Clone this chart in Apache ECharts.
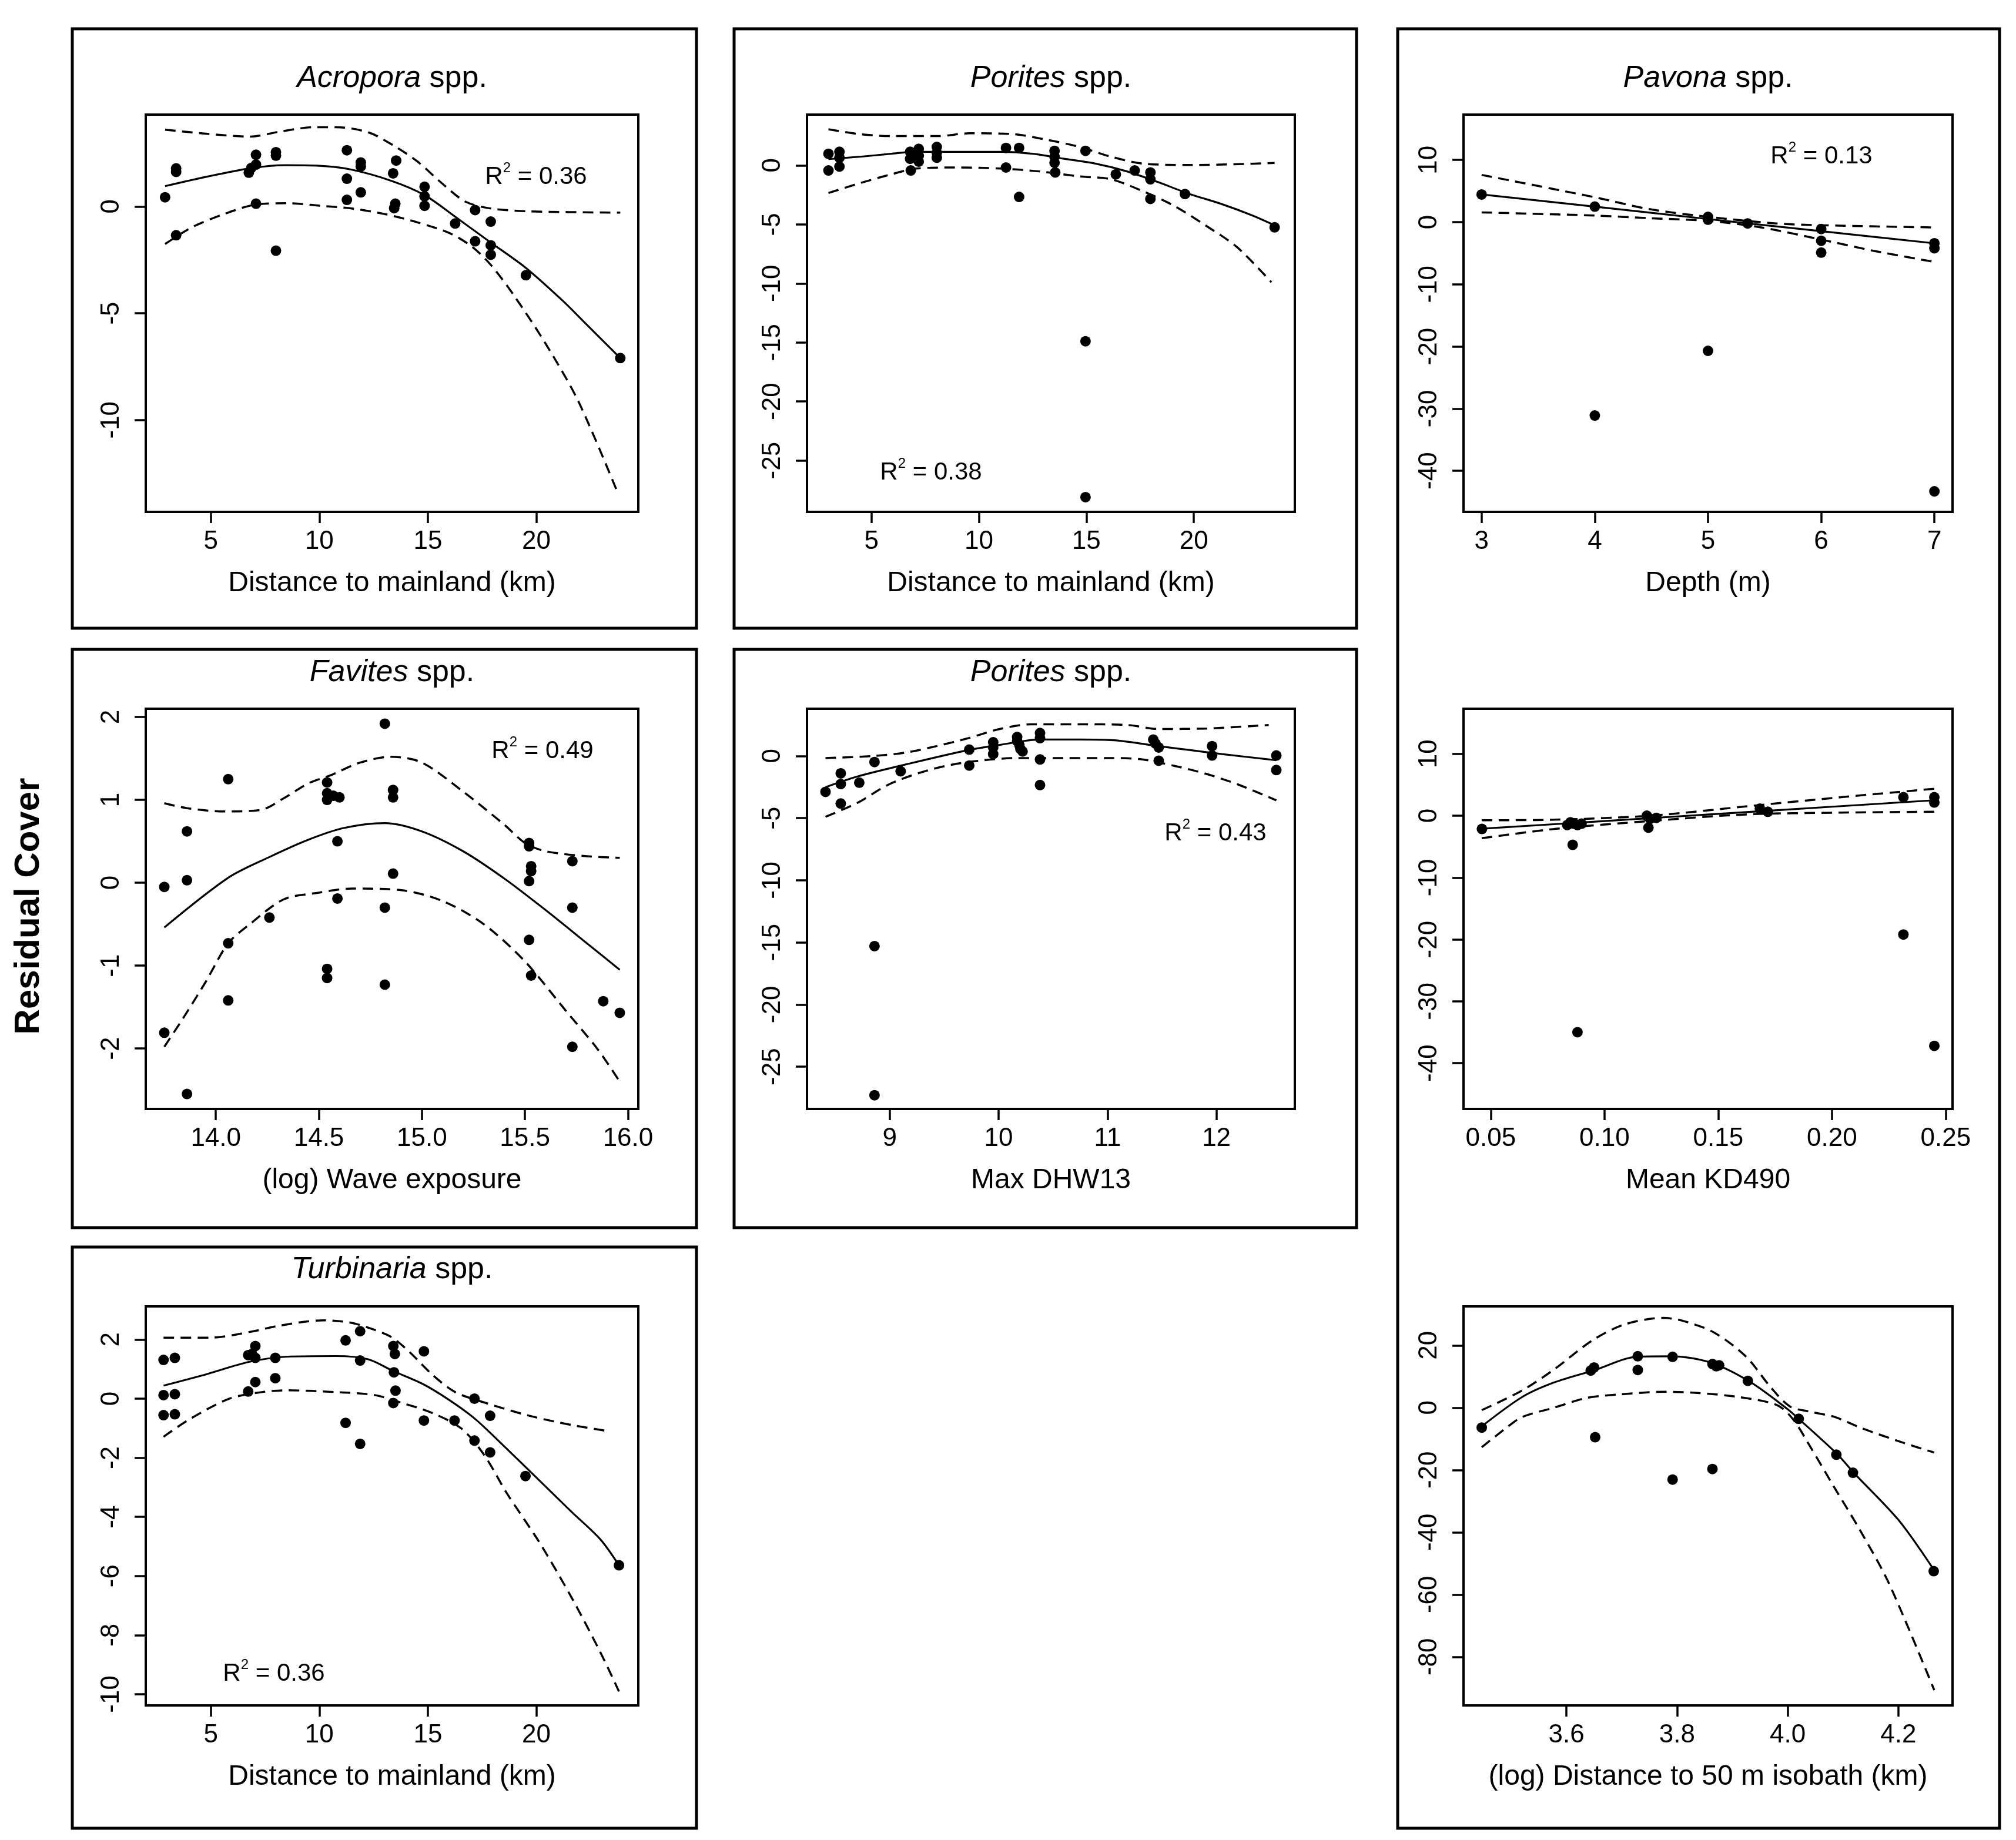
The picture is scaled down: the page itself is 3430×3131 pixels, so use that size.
<!DOCTYPE html>
<html><head><meta charset="utf-8">
<script src="https://cdn.jsdelivr.net/npm/echarts@6/dist/echarts.min.js"></script>
<style>html,body{margin:0;padding:0;background:#fff}#c{width:3430px;height:3131px}</style>
</head><body><div id="c"></div>
<script>
// ---------- Panel 1: Acropora spp. vs distance to mainland ----------
const acroX = [2.89,3.4,3.4,3.4,6.75,6.86,7.08,7.08,7.08,8.0,8.0,8.0,11.27,11.27,11.27,11.91,11.91,11.91,13.54,13.4,13.5,13.45,14.85,14.85,14.85,16.26,17.18,17.18,17.9,17.9,17.9,19.52,23.87];
const acroY = [0.43,1.78,1.62,-1.35,1.58,1.8,2.42,1.96,0.13,2.54,2.38,-2.07,2.63,1.3,0.31,2.06,1.87,0.66,2.15,1.55,0.13,-0.08,0.92,0.47,0.03,-0.8,-0.17,-1.63,-0.71,-1.82,-2.26,-3.22,-7.1];
const acroFitX = [2.89,4.85,6.78,8.42,9.9,11.4,13.32,14.85,16.26,17.9,19.52,21.2,22.24,23.87];
const acroFitY = [0.95,1.4,1.78,1.93,1.91,1.74,1.2,0.53,-0.48,-1.69,-2.88,-4.4,-5.45,-7.1];
const acroUpX = [2.89,4.85,6.78,8.27,9.75,10.8,12.28,13.47,14.5,15.7,16.74,17.93,19.7,23.87];
const acroUpY = [3.59,3.4,3.27,3.52,3.71,3.71,3.46,2.82,2.12,1.04,0.22,-0.1,-0.23,-0.29];
const acroLoX = [2.89,4.1,5.6,7.08,8.57,10.05,11.54,13.02,14.5,16.0,17.03,17.93,18.97,20.45,21.94,23.72];
const acroLoY = [-1.76,-0.99,-0.36,0.09,0.15,0.03,-0.1,-0.36,-0.74,-1.25,-1.88,-2.77,-4.17,-6.46,-9.13,-13.33];
const acroXTicks = [5,10,15,20];
const acroYTicks = [0,-5,-10];

// ---------- Panel 2: Porites spp. vs distance to mainland ----------
const porX = [3.0,3.0,3.51,3.51,3.51,6.8,6.8,6.83,7.2,7.2,7.2,8.04,8.04,8.04,11.26,11.26,11.87,11.87,13.52,13.52,13.52,13.55,14.96,14.96,14.96,16.37,17.25,17.98,17.98,17.98,19.59,23.76];
const porY = [0.98,-0.43,1.15,0.65,-0.1,1.15,0.56,-0.43,1.4,0.81,0.32,1.56,1.06,0.65,1.48,-0.18,1.48,-2.67,1.23,0.73,0.23,-0.6,1.23,-14.9,-28.1,-0.76,-0.43,-0.6,-1.18,-2.84,-2.43,-5.25];
const porFitX = [3.0,4.46,5.92,6.94,8.85,11.04,12.5,13.96,15.42,16.89,18.35,19.81,21.27,22.73,23.76];
const porFitY = [0.53,0.73,0.98,1.15,1.15,1.15,0.98,0.56,0.15,-0.51,-1.43,-2.43,-3.26,-4.25,-5.08];
const porUpX = [3.0,4.46,5.92,8.11,9.58,11.62,13.23,14.69,16.15,17.62,19.81,23.76];
const porUpY = [3.06,2.64,2.48,2.48,2.72,2.64,2.14,1.56,0.73,0.15,0.03,0.2];
const porLoX = [3.0,4.46,5.92,7.09,8.85,11.04,12.79,14.69,16.15,17.62,19.08,20.54,22.0,23.61];
const porLoY = [-2.34,-1.51,-0.76,-0.27,-0.18,-0.27,-0.51,-0.93,-1.18,-2.18,-3.42,-5.08,-6.91,-9.9];
const porXTicks = [5,10,15,20];
const porYTicks = [0,-5,-10,-15,-20,-25];

// ---------- Panel 3: Pavona spp. vs depth ----------
const pavDX = [3,4,4,5,5,5,5.35,6,6,6,7,7,7];
const pavDY = [4.45,2.5,-31.1,0.85,0.4,-20.7,-0.2,-1.1,-3.0,-4.9,-3.4,-4.2,-43.3];
const pavDFitX = [3,4,5,6,7];
const pavDFitY = [4.45,2.5,0.5,-1.45,-3.4];
const pavDUpX = [3,4,4.48,5,5.6,6,7];
const pavDUpY = [7.6,4.0,2.1,0.85,-0.2,-0.5,-0.85];
const pavDLoX = [3,4,4.48,5,5.47,6,6.46,7];
const pavDLoY = [1.57,1.06,0.64,0.2,-0.85,-2.8,-4.6,-6.4];
const pavDXTicks = [3,4,5,6,7];
const pavDYTicks = [10,0,-10,-20,-30,-40];

// ---------- Panel 4: Favites spp. vs (log) wave exposure ----------
const favX = [13.75,13.75,13.86,13.86,13.86,14.06,14.06,14.06,14.26,14.54,14.54,14.57,14.6,14.54,14.59,14.59,14.54,14.54,14.82,14.86,14.86,14.86,14.82,14.82,15.52,15.52,15.52,15.53,15.53,15.52,15.53,15.73,15.73,15.73,15.88,15.96];
const favY = [-0.05,-1.81,0.62,0.03,-2.55,1.25,-0.73,-1.42,-0.42,1.21,1.08,1.05,1.03,1.0,0.5,-0.19,-1.04,-1.15,1.92,1.12,1.03,0.11,-0.3,-1.23,0.48,0.44,0.02,0.14,0.2,-0.69,-1.12,0.26,-0.3,-1.98,-1.43,-1.57];
const favFitX = [13.75,14.06,14.26,14.45,14.62,14.82,15.0,15.2,15.4,15.6,15.8,15.96];
const favFitY = [-0.54,0.06,0.31,0.52,0.66,0.72,0.62,0.38,0.05,-0.33,-0.73,-1.05];
const favUpX = [13.75,13.86,14.04,14.22,14.33,14.45,14.56,14.7,14.85,15.0,15.2,15.4,15.5,15.6,15.8,15.96];
const favUpY = [0.96,0.9,0.86,0.88,1.02,1.2,1.3,1.45,1.52,1.45,1.1,0.7,0.48,0.38,0.32,0.3];
const favLoX = [13.75,13.84,13.95,14.06,14.16,14.33,14.5,14.66,14.9,15.1,15.3,15.5,15.7,15.85,15.96];
const favLoY = [-1.98,-1.64,-1.2,-0.73,-0.51,-0.2,-0.12,-0.07,-0.09,-0.22,-0.5,-0.95,-1.55,-2.0,-2.4];
const favXTicks = [14.0,14.5,15.0,15.5,16.0];
const favYTicks = [2,1,0,-1,-2];

// ---------- Panel 5: Porites spp. vs Max DHW13 ----------
const dhwX = [8.41,8.55,8.55,8.55,8.72,8.86,8.86,8.86,9.1,9.73,9.73,9.95,9.95,9.95,10.17,10.17,10.19,10.2,10.22,10.38,10.38,10.38,10.38,11.42,11.44,11.47,11.47,11.96,11.96,12.55,12.55];
const dhwY = [-2.89,-1.4,-2.26,-3.83,-2.15,-0.49,-15.3,-27.3,-1.23,0.51,-0.77,1.1,0.68,0.15,1.53,1.21,0.89,0.57,0.36,1.85,1.43,-0.28,-2.34,1.32,1.0,0.68,-0.38,0.79,0.04,0.04,-1.13];
const dhwFitX = [8.41,8.7,9.14,9.72,10.01,10.38,10.74,11.06,11.47,11.76,12.05,12.55];
const dhwFitY = [-2.51,-1.66,-0.7,0.47,0.89,1.32,1.32,1.26,0.79,0.47,0.15,-0.34];
const dhwUpX = [8.41,8.85,9.14,9.43,9.72,10.01,10.3,10.74,11.18,11.47,11.91,12.48];
const dhwUpY = [-0.17,0,0.26,0.79,1.43,2.17,2.55,2.55,2.49,2.17,2.21,2.49];
const dhwLoX = [8.41,8.7,8.99,9.28,9.57,9.87,10.16,10.59,11.03,11.32,11.62,11.91,12.2,12.55];
const dhwLoY = [-4.89,-3.79,-2.3,-1.34,-0.7,-0.34,-0.17,-0.17,-0.17,-0.28,-0.81,-1.45,-2.3,-3.57];
const dhwXTicks = [9,10,11,12];
const dhwYTicks = [0,-5,-10,-15,-20,-25];

// ---------- Panel 6: Pavona spp. vs mean KD490 ----------
const kdX = [0.0461,0.0836,0.085,0.0867,0.0881,0.0899,0.086,0.0881,0.1186,0.12,0.1228,0.1193,0.1683,0.1718,0.2314,0.2314,0.245,0.245,0.245];
const kdY = [-2.14,-1.5,-1.07,-1.28,-1.5,-1.28,-4.7,-35.0,0,-0.5,-0.34,-1.92,1.15,0.64,2.99,-19.2,2.99,2.14,-37.2];
const kdFitX = [0.0461,0.1,0.15,0.2,0.245];
const kdFitY = [-2.1,-0.85,0.3,1.46,2.5];
const kdUpX = [0.046,0.078,0.12,0.162,0.204,0.245];
const kdUpY = [-0.73,-0.64,0,1.5,3.0,4.36];
const kdLoX = [0.046,0.078,0.12,0.162,0.204,0.245];
const kdLoY = [-3.63,-2.14,-0.85,0.21,0.51,0.64];
const kdXTicks = [0.05,0.10,0.15,0.20,0.25];
const kdYTicks = [10,0,-10,-20,-30,-40];

// ---------- Panel 7: Turbinaria spp. vs distance to mainland ----------
const turX = [2.82,3.34,2.82,3.34,2.82,3.34,6.72,7.05,6.72,6.9,7.05,7.05,7.97,7.97,11.21,11.21,11.88,11.88,11.88,13.41,13.48,13.44,13.51,13.41,14.82,14.82,16.23,17.15,17.15,17.87,17.87,19.5,23.81];
const turY = [1.31,1.38,0.12,0.15,-0.56,-0.53,0.24,0.56,1.47,1.51,1.78,1.38,1.38,0.69,1.97,-0.82,2.28,1.29,-1.53,1.78,1.51,0.89,0.27,-0.15,1.6,-0.74,-0.74,0.0,-1.42,-0.58,-1.82,-2.62,-5.64];
const turFitX = [2.82,4.82,6.75,8.54,10.77,12.25,13.41,14.78,15.97,17.15,18.19,19.68,21.61,22.95,23.81];
const turFitY = [0.44,0.83,1.24,1.42,1.44,1.33,0.93,0.49,-0.04,-0.67,-1.38,-2.44,-3.82,-4.76,-5.64];
const turUpX = [2.82,4.94,6.9,8.09,10.17,11.36,12.25,13.3,14.18,15.22,16.26,17.6,19.68,21.61,23.4];
const turUpY = [2.06,2.06,2.27,2.46,2.65,2.58,2.4,2.09,1.56,0.8,0.22,-0.13,-0.58,-0.89,-1.11];
const turLoX = [2.82,4.08,5.86,7.35,8.54,10.77,12.55,13.74,15.22,16.56,17.6,18.64,20.13,21.61,22.95,23.81];
const turLoY = [-1.29,-0.67,0,0.22,0.28,0.22,0.12,-0.13,-0.49,-1.02,-1.91,-3.2,-4.85,-6.71,-8.58,-9.91];
const turXTicks = [5,10,15,20];
const turYTicks = [2,0,-2,-4,-6,-8,-10];

// ---------- Panel 8: Pavona spp. vs (log) distance to 50 m isobath ----------
const isoX = [3.447,3.644,3.65,3.652,3.729,3.729,3.792,3.792,3.864,3.871,3.876,3.864,3.928,4.02,4.088,4.118,4.264];
const isoY = [-6.4,11.9,12.9,-9.5,16.5,12.1,16.3,-23.1,14.0,13.3,13.6,-19.7,8.6,-3.6,-15.1,-20.9,-52.5];
const isoFitX = [3.447,3.52,3.578,3.65,3.73,3.79,3.86,3.93,4.0,4.02,4.09,4.12,4.2,4.264];
const isoFitY = [-6,3.4,8.1,12,16.4,16.5,14.5,8.5,-0.5,-3.6,-15,-21,-36,-52];
const isoUpX = [3.447,3.52,3.578,3.647,3.705,3.774,3.808,3.866,3.924,3.97,4.004,4.04,4.085,4.131,4.211,4.265];
const isoUpY = [-0.8,5.5,12.3,21.6,26.7,28.8,28,24.2,16.5,6.4,0.4,-1.3,-3,-6.4,-11.4,-14.4];
const isoLoX = [3.447,3.492,3.52,3.578,3.636,3.693,3.78,3.837,3.912,3.981,4.01,4.039,4.085,4.131,4.183,4.265];
const isoLoY = [-12.7,-6.4,-3,0,3.1,4.2,5.1,4.7,3.4,0.8,-3.8,-12,-25.8,-39.4,-56.4,-90.7];
const isoXTicks = [3.6,3.8,4.0,4.2];
const isoYTicks = [20,0,-20,-40,-60,-80];

// ---------- Text ----------
const yLabel = 'Residual Cover';

// ---------- Layout (pixels) ----------
const FONT = "'Liberation Sans', Arial, Helvetica, sans-serif";
const COLS = [[248,1086],[1373,2203],[2490,3322]];
const ROWS = [[195,871],[1206,1887],[2223,2902]];
const TITLE_Y = [134,1145,2161];

const panels = [
  {genus:'Acropora', col:0,row:0, xr:[2.0,24.7], yr:[-14.3,4.3], xt:acroXTicks, yt:acroYTicks, xd:0, xName:'Distance to mainland (km)',
   pts:[acroX,acroY], fit:[acroFitX,acroFitY], up:[acroUpX,acroUpY], lo:[acroLoX,acroLoY], r2:'0.36', r2Pos:[912,298]},
  {genus:'Porites', col:1,row:0, xr:[2.0,24.7], yr:[-29.35,4.3], xt:porXTicks, yt:porYTicks, xd:0, xName:'Distance to mainland (km)',
   pts:[porX,porY], fit:[porFitX,porFitY], up:[porUpX,porUpY], lo:[porLoX,porLoY], r2:'0.38', r2Pos:[1584,801]},
  {genus:'Pavona', col:2,row:0, xr:[2.84,7.16], yr:[-46.6,17.3], xt:pavDXTicks, yt:pavDYTicks, xd:0, xName:'Depth (m)',
   pts:[pavDX,pavDY], fit:[pavDFitX,pavDFitY], up:[pavDUpX,pavDUpY], lo:[pavDLoX,pavDLoY], r2:'0.13', r2Pos:[3099,263]},
  {genus:'Favites', col:0,row:1, xr:[13.66,16.05], yr:[-2.73,2.1], xt:favXTicks, yt:favYTicks, xd:1, xName:'(log) Wave exposure',
   pts:[favX,favY], fit:[favFitX,favFitY], up:[favUpX,favUpY], lo:[favLoX,favLoY], r2:'0.49', r2Pos:[923,1275]},
  {genus:'Porites', col:1,row:1, xr:[8.24,12.72], yr:[-28.4,3.8], xt:dhwXTicks, yt:dhwYTicks, xd:0, xName:'Max DHW13',
   pts:[dhwX,dhwY], fit:[dhwFitX,dhwFitY], up:[dhwUpX,dhwUpY], lo:[dhwLoX,dhwLoY], r2:'0.43', r2Pos:[2068,1415]},
  {genus:null, col:2,row:1, xr:[0.038,0.253], yr:[-47.4,17.3], xt:kdXTicks, yt:kdYTicks, xd:2, xName:'Mean KD490',
   pts:[kdX,kdY], fit:[kdFitX,kdFitY], up:[kdUpX,kdUpY], lo:[kdLoX,kdLoY], r2:null},
  {genus:'Turbinaria', col:0,row:2, xr:[2.0,24.7], yr:[-10.38,3.12], xt:turXTicks, yt:turYTicks, xd:0, xName:'Distance to mainland (km)',
   pts:[turX,turY], fit:[turFitX,turFitY], up:[turUpX,turUpY], lo:[turLoX,turLoY], r2:'0.36', r2Pos:[466,2845]},
  {genus:null, col:2,row:2, xr:[3.414,4.298], yr:[-95.6,32.5], xt:isoXTicks, yt:isoYTicks, xd:1, xName:'(log) Distance to 50 m isobath (km)',
   pts:[isoX,isoY], fit:[isoFitX,isoFitY], up:[isoUpX,isoUpY], lo:[isoLoX,isoLoY], r2:null}
];

const zip = (xs, ys) => xs.map((x, i) => [x, ys[i]]);

const grids = [], xAxes = [], yAxes = [], series = [];
const graphics = [];

// panel boxes
const boxes = [
  [123,49,1185,1069],[123,1105,1185,2089],[123,2122,1185,3111],
  [1249,49,2308,1069],[1249,1105,2308,2089],
  [2378,49,3402,3111]
];
boxes.forEach(b => graphics.push({type:'rect', silent:true, shape:{x:b[0], y:b[1], width:b[2]-b[0], height:b[3]-b[1]},
  style:{fill:'none', stroke:'#000', lineWidth:5}}));

panels.forEach((p, i) => {
  const [l, r] = COLS[p.col], [t, b] = ROWS[p.row];
  grids.push({left:l, top:t, width:r-l, height:b-t, show:true, borderColor:'#000', borderWidth:4, backgroundColor:'rgba(0,0,0,0)'});
  const tickStyle = {show:true, length:19, lineStyle:{color:'#000', width:3.5}};
  xAxes.push({gridIndex:i, type:'value', min:p.xr[0], max:p.xr[1], position:'bottom',
    name:p.xName, nameLocation:'middle', nameGap:98,
    nameTextStyle:{fontSize:48, color:'#000', fontFamily:FONT},
    axisLine:{show:false, onZero:false}, splitLine:{show:false},
    axisTick:Object.assign({customValues:p.xt}, tickStyle),
    axisLabel:{customValues:p.xt, margin:29, fontSize:44, color:'#000', fontFamily:FONT,
      formatter: v => Number(v).toFixed(p.xd)}});
  yAxes.push({gridIndex:i, type:'value', min:p.yr[0], max:p.yr[1], position:'left',
    axisLine:{show:false, onZero:false}, splitLine:{show:false},
    axisTick:Object.assign({customValues:p.yt}, tickStyle),
    axisLabel:{customValues:p.yt, margin:36, rotate:90, fontSize:44, color:'#000', fontFamily:FONT,
      formatter: v => String(Math.round(v))}});
  const base = {xAxisIndex:i, yAxisIndex:i, silent:true, animation:false};
  series.push(Object.assign({type:'line', data:zip(p.up[0], p.up[1]), showSymbol:false, smooth:0.3,
    lineStyle:{color:'#000', width:3.5, type:[18,11]}}, base));
  series.push(Object.assign({type:'line', data:zip(p.lo[0], p.lo[1]), showSymbol:false, smooth:0.3,
    lineStyle:{color:'#000', width:3.5, type:[18,11]}}, base));
  series.push(Object.assign({type:'line', data:zip(p.fit[0], p.fit[1]), showSymbol:false, smooth:0.3,
    lineStyle:{color:'#000', width:3.2}}, base));
  series.push(Object.assign({type:'scatter', data:zip(p.pts[0], p.pts[1]), symbol:'circle', symbolSize:18,
    itemStyle:{color:'#000', opacity:1}}, base));

  if (p.genus) {
    graphics.push({type:'text', silent:true, x:(l+r)/2, y:TITLE_Y[p.row],
      style:{text:'{i|' + p.genus + '}{n| spp.}', align:'center', verticalAlign:'middle', fill:'#000',
        rich:{i:{fontStyle:'italic', fontSize:52, fontFamily:FONT, fill:'#000'},
              n:{fontSize:52, fontFamily:FONT, fill:'#000'}}}});
  }
  if (p.r2) {
    graphics.push({type:'text', silent:true, x:p.r2Pos[0], y:p.r2Pos[1],
      style:{text:'{a|R}{s|2}{a| = ' + p.r2 + '}', align:'center', verticalAlign:'middle', fill:'#000',
        rich:{a:{fontSize:42, fontFamily:FONT, fill:'#000', lineHeight:48, verticalAlign:'bottom'},
              s:{fontSize:24, fontFamily:FONT, fill:'#000', lineHeight:48, verticalAlign:'top'}}}});
  }
});

graphics.push({type:'text', silent:true, x:49, y:1542, rotation:Math.PI/2,
  style:{text:yLabel, align:'center', verticalAlign:'middle', fill:'#000', font:'bold 60px ' + FONT}});

const chart = echarts.init(document.getElementById('c'), null, {renderer:'canvas'});
chart.setOption({
  animation:false,
  backgroundColor:'#fff',
  grid:grids, xAxis:xAxes, yAxis:yAxes, series:series,
  graphic:{elements:graphics}
});
</script>
</body></html>
